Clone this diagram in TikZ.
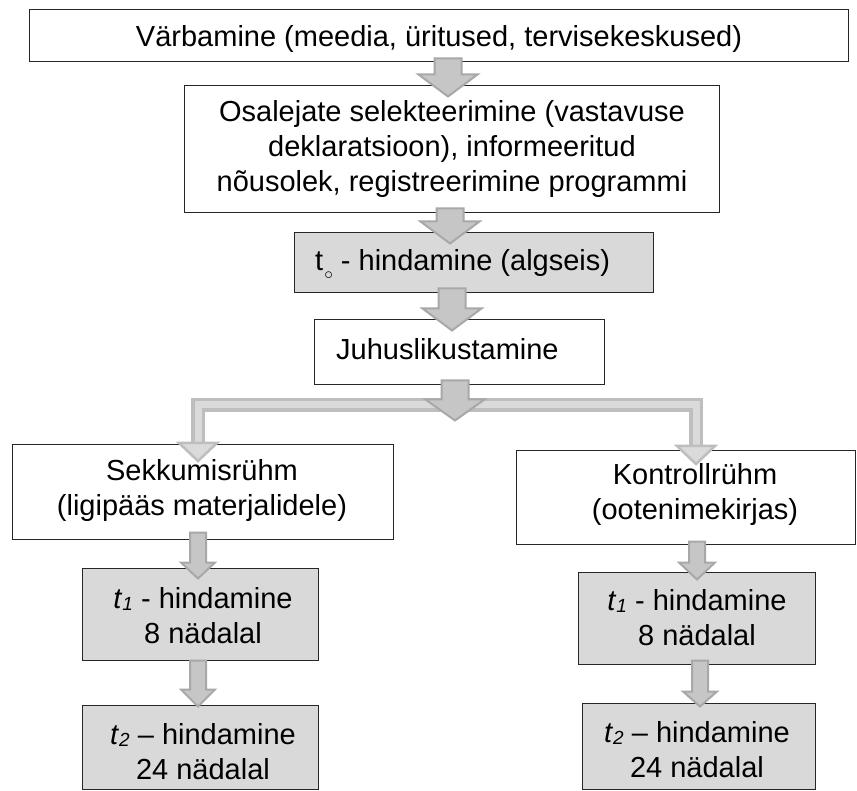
\documentclass[tikz,border=0pt]{standalone}
\usepackage{fontspec}
\setmainfont{Liberation Sans}
\usetikzlibrary{fit,calc}
\definecolor{boxgray}{HTML}{D9D9D9}
\definecolor{arrfill}{HTML}{C6C6C6}
\definecolor{arredge}{HTML}{A8A8A8}
\definecolor{brfill}{HTML}{DADADA}
\definecolor{bredge}{HTML}{BEBEBE}
\tikzset{
  box/.style={draw=black!85, line width=1pt, fill=white, inner sep=0pt},
  gbox/.style={box, fill=boxgray},
  txt/.style={font=\fontsize{29}{35}\selectfont, align=center, inner sep=0pt},
  blockarrow/.style={fill=arrfill, draw=arredge, line width=2pt, line join=miter},
}
\newcommand\blockarr[8]{%
  \draw[blockarrow] let \p1=(#1.south), \p2=(#2.north) in
   ({#3pt-#6pt},{\y1+#4pt}) -- ({#3pt+#6pt},{\y1+#4pt}) -- ({#3pt+#6pt},{\y2-#5pt+#8pt})
   -- ({#3pt+#7pt},{\y2-#5pt+#8pt}) -- ({#3pt},{\y2-#5pt}) -- ({#3pt-#7pt},{\y2-#5pt+#8pt})
   -- ({#3pt-#6pt},{\y2-#5pt+#8pt}) -- cycle;}
\newcommand\tsub[1]{\textit{t}{\fontsize{19}{19}\selectfont\itshape\raisebox{-2pt}{#1}}}
\begin{document}
\begin{tikzpicture}[x=1pt,y=-1pt]
\useasboundingbox (0,0) rectangle (857,791);
% boxes
\node[box, fit={(29,10) (848,62)}] (b1) {};
\node[box, fit={(184,86) (719,213)}] (b2) {};
\node[gbox, fit={(294,233) (653,293)}] (b3) {};
\node[box, fit={(314,320) (604,385)}] (b4) {};
\node[box, fit={(12,445) (393,539)}] (sek) {};
\node[box, fit={(516,451) (855,544)}] (kon) {};
\node[gbox, fit={(82,568) (318,660)}] (l1) {};
\node[gbox, fit={(82,705) (318,789)}] (l2) {};
\node[gbox, fit={(578,572) (815,664)}] (r1) {};
\node[gbox, fit={(582,703) (815,789)}] (r2) {};
% texts
\node[txt, anchor=base] (t1) at (439,47) {Värbamine (meedia, üritused, tervisekeskused)};
\node[txt] (t2) at (452,149) {Osalejate selekteerimine (vastavuse\\deklaratsioon), informeeritud\\nõusolek, registreerimine programmi};
\node[txt, anchor=base west] (t3) at (315,271) {t\hspace{1pt}\raisebox{-9pt}{\fontsize{16}{16}\selectfont$\circ$} - hindamine (algseis)};
\node[txt, anchor=base west] (t4) at (336,360) {Juhuslikustamine};
\node[txt] (t5) at (202,491) {Sekkumisrühm\\(ligipääs materjalidele)};
\node[txt] (t6) at (695,495) {Kontrollrühm\\(ootenimekirjas)};
\node[txt] (t7) at (203,616) {\tsub{1} - hindamine\\8 nädalal};
\node[txt] (t8) at (203,752) {\tsub{2} – hindamine\\24 nädalal};
\node[txt] (t9) at (697,618) {\tsub{1} - hindamine\\8 nädalal};
\node[txt] (t10) at (697,750) {\tsub{2} – hindamine\\24 nädalal};
% main arrows
\blockarr{b1}{b2}{448}{4}{11}{13.5}{29.5}{22}
\blockarr{b2}{b3}{450}{5}{11}{13.5}{29.5}{22}
\blockarr{b3}{b4}{452}{5}{11}{13.5}{29.5}{22}
% branch
\coordinate (bl) at (198,443);
\coordinate (br) at (696,446);
\draw[bredge, line width=14pt, line join=miter] (bl) -- (198,405) -- (696,405) -- (br);
\draw[brfill, line width=7pt, line join=miter] (bl) -- (198,405) -- (696,405) -- (br);
\draw[fill=brfill, draw=bredge, line width=2.5pt, line join=miter] ($(bl)+(-19,0)$) -- ($(bl)+(19,0)$) -- ($(bl)+(0,18)$) -- cycle;
\draw[fill=brfill, draw=bredge, line width=2.5pt, line join=miter] ($(br)+(-19,0)$) -- ($(br)+(19,0)$) -- ($(br)+(0,18)$) -- cycle;
\node[inner sep=0pt, outer sep=0pt] (split) at (455,421) {};
\blockarr{b4}{split}{455}{5}{0}{13.5}{29.5}{21}
% column arrows
\blockarr{sek}{l1}{198}{7}{11}{8}{17}{16}
\blockarr{l1}{l2}{198}{0}{2}{8}{17}{17}
\blockarr{kon}{r1}{697}{3}{8}{8}{18}{17}
\blockarr{r1}{r2}{700}{4}{4}{8}{17}{15}
\end{tikzpicture}
\end{document}
